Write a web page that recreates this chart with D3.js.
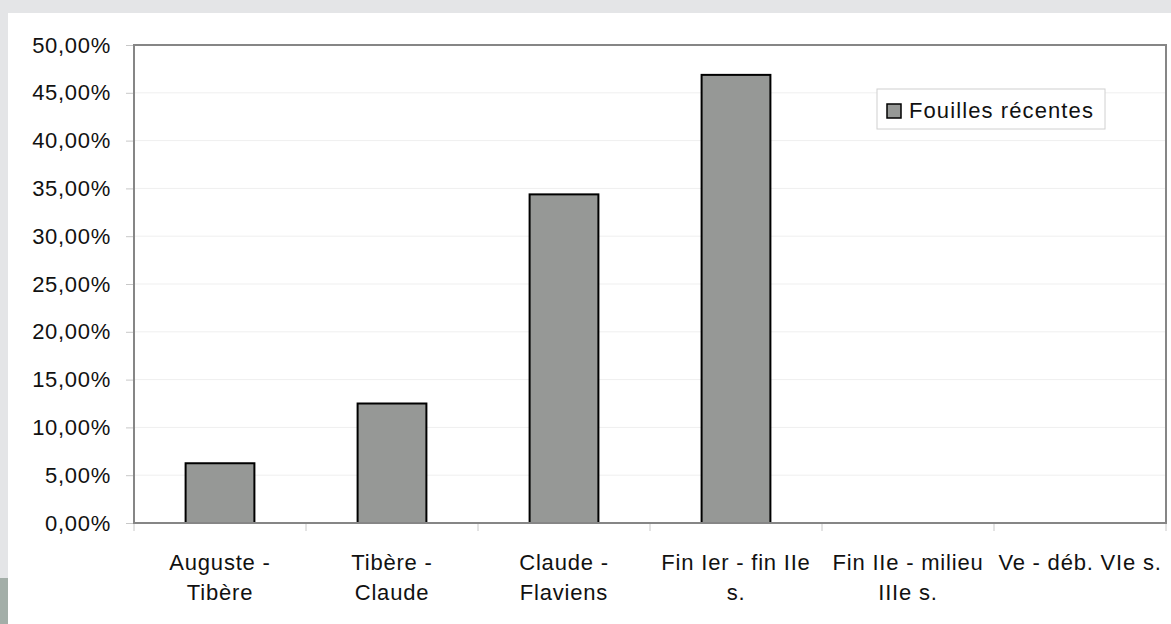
<!DOCTYPE html>
<html><head><meta charset="utf-8">
<script src="https://cdn.jsdelivr.net/npm/d3@7"></script>
<style>
html,body{margin:0;padding:0;background:#e4e5e7;}
svg{display:block;}
text{font-family:"Liberation Sans",Arial,sans-serif;fill:#111;}
</style></head>
<body>
<script>
const categories = [["Auguste -","Tibère"],["Tibère -","Claude"],["Claude -","Flaviens"],["Fin Ier - fin IIe","s."],["Fin IIe - milieu","IIIe s."],["Ve - déb. VIe s."]];
const values = [6.25, 12.5, 34.375, 46.875, 0, 0];
const yTicks = [0,5,10,15,20,25,30,35,40,45,50];
const seriesName = "Fouilles récentes";

const W = 1171, H = 624;
const svg = d3.select("body").append("svg").attr("width", W).attr("height", H);
svg.append("rect").attr("x",0).attr("y",0).attr("width",W).attr("height",H).attr("fill","#e4e5e7");
svg.append("rect").attr("x",0).attr("y",578).attr("width",8).attr("height",H-578).attr("fill","#a3aea8");
svg.append("rect").attr("x",8).attr("y",13).attr("width",W-8).attr("height",H-13).attr("fill","#fff");

const L = 134, R = 1166, T = 45, B = 523;
const x = d3.scaleBand().domain(d3.range(categories.length)).range([L, R]).paddingInner(0).paddingOuter(0);
const y = d3.scaleLinear().domain([0, 50]).range([B, T]);

// gridlines
svg.append("g").selectAll("line").data(yTicks.filter(d=>d>0)).join("line")
  .attr("x1", L).attr("x2", R).attr("y1", d=>y(d)).attr("y2", d=>y(d))
  .attr("stroke", "#efefef").attr("stroke-width", 1);

// y axis
const fmt = d => d.toFixed(2).replace(".", ",") + "%";
const ya = svg.append("g").attr("transform", `translate(${L},0)`)
  .call(d3.axisLeft(y).tickValues(yTicks).tickFormat(fmt).tickSize(8).tickPadding(15));
ya.select(".domain").remove();
ya.selectAll(".tick line").attr("stroke", "#c8c8c8");
ya.selectAll(".tick text").attr("font-size", 22).attr("letter-spacing", "0.7px")
  .attr("font-family", '"Liberation Sans",Arial,sans-serif').attr("fill", "#111");

// x ticks at category boundaries
const bounds = d3.range(categories.length + 1).map(i => i === categories.length ? R : x(i));
svg.append("g").selectAll("line").data(bounds).join("line")
  .attr("x1", d=>d).attr("x2", d=>d).attr("y1", B).attr("y2", B+8)
  .attr("stroke", "#c8c8c8").attr("stroke-width", 1);

// bars
const bw = x.bandwidth() * 0.4;
svg.append("g").selectAll("rect").data(values).join("rect")
  .attr("x", (d,i) => x(i) + (x.bandwidth()-bw)/2)
  .attr("y", d => y(d)).attr("width", bw).attr("height", d => y(0) - y(d))
  .attr("fill", "#969896").attr("stroke", d => d > 0 ? "#000" : "none").attr("stroke-width", 2);

// frame
svg.append("rect").attr("x", L).attr("y", T).attr("width", R-L).attr("height", B-T)
  .attr("fill", "none").attr("stroke", "#868686").attr("stroke-width", 2);

// category labels
const cl = svg.append("g").selectAll("text").data(categories).join("text")
  .attr("text-anchor", "middle").attr("font-size", 22).attr("letter-spacing", "0.8px")
  .attr("x", (d,i) => x(i) + x.bandwidth()/2);
cl.selectAll("tspan").data(d => d).join("tspan")
  .attr("x", function(){ return d3.select(this.parentNode).attr("x"); })
  .attr("y", (d,j) => 570 + j*30).text(d => d);

// legend
const lg = svg.append("g");
lg.append("rect").attr("x", 877).attr("y", 89).attr("width", 228).attr("height", 40)
  .attr("fill", "#fff").attr("stroke", "#d0d0d0").attr("stroke-width", 1);
lg.append("rect").attr("x", 887).attr("y", 104).attr("width", 14).attr("height", 14)
  .attr("fill", "#969896").attr("stroke", "#000").attr("stroke-width", 1.5);
lg.append("text").attr("x", 909).attr("y", 118).attr("font-size", 22).attr("letter-spacing", "1.1px").text(seriesName);
</script>
</body></html>
